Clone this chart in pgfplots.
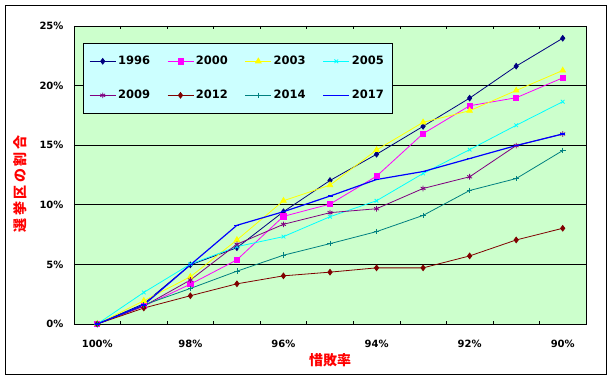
\documentclass[border=0pt]{standalone}
\usepackage{pgfplots}
\pgfplotsset{compat=1.18}
\usepackage{pgfplotstable}
\usepackage{fontspec}
\setmainfont{DejaVu Sans}
\newfontfamily\jp{Noto Sans CJK JP}
\definecolor{plotbg}{HTML}{CCFFCC}
\definecolor{legbg}{HTML}{CCFFFF}
\definecolor{c1996}{HTML}{000080}
\definecolor{c2000}{HTML}{FF00FF}
\definecolor{c2003}{HTML}{FFFF00}
\definecolor{c2005}{HTML}{00FFFF}
\definecolor{c2009}{HTML}{800080}
\definecolor{c2012}{HTML}{800000}
\definecolor{c2014}{HTML}{008080}
\definecolor{c2017}{HTML}{0000FF}
\pgfplotstableread{
x y1996 y2000 y2003 y2005 y2009 y2012 y2014 y2017
0 0 0 0 0 0 0 0 0
1 1.70 1.50 1.95 2.65 1.50 1.34 1.60 1.60
2 4.96 3.34 3.96 5.02 3.69 2.37 2.98 4.96
3 6.40 5.38 7.05 6.49 6.69 3.37 4.43 8.28
4 9.42 9.03 10.34 7.33 8.36 4.04 5.77 9.42
5 12.04 10.06 11.65 9.00 9.34 4.35 6.74 10.73
6 14.24 12.40 14.60 10.34 9.67 4.71 7.75 12.12
7 16.58 15.97 16.92 12.63 11.37 4.71 9.11 12.79
8 18.95 18.31 17.89 14.63 12.35 5.71 11.20 13.88
9 21.63 18.98 19.59 16.67 14.97 7.05 12.20 14.97
10 23.97 20.65 21.27 18.65 15.94 8.03 14.55 15.94
}\data
\begin{document}
\begin{tikzpicture}[x=1pt,y=1pt]
\path (0,0) rectangle (610,379);
\draw[black, line width=0.8pt] (5,5) rectangle (606,374);
\begin{axis}[
  at={(74pt,55pt)}, anchor=south west,
  width=512pt, height=298pt, scale only axis,
  xmin=-0.5, xmax=10.5, ymin=0, ymax=25,
  axis background/.style={fill=plotbg},
  axis line style={black, line width=0.6pt},
  xtick={0,2,...,10},
  xticklabels={100\%,98\%,96\%,94\%,92\%,90\%},
  minor xtick={-0.5,0.5,...,10.5},
  major x tick style={draw=none},
  minor x tick style={black, line width=0.5pt},
  minor tick length=3pt,
  tick align=inside,
  ytick={0,5,...,25},
  yticklabel={\pgfmathprintnumber{\tick}\%},
  major y tick style={draw=none},
  ymajorgrids,
  grid style={black, line width=0.8pt},
  /pgf/number format/assume math mode=true,
  ticklabel style={font=\bfseries\fontsize{10}{12}\selectfont, text=black},
  xticklabel style={yshift=-13pt},
  yticklabel style={xshift=-7pt},
  xlabel={\jp\bfseries 惜敗率},
  ylabel={\jp\bfseries\addfontfeature{LetterSpace=18}選挙区の割合},
  xlabel style={at={(axis description cs:0.5,-0.121)}, anchor=center, text=red, font=\fontsize{14}{16}\selectfont},
  ylabel style={at={(axis description cs:-0.105,0.47)}, anchor=center, text=red, font=\fontsize{14}{16}\selectfont},
  legend columns=4,
  legend cell align=left,
  legend image code/.code={\draw[mark repeat=2,mark phase=2] plot coordinates {(0pt,0pt) (13pt,0pt) (26pt,0pt)};},
  legend style={at={(axis description cs:0.0176,0.943)}, anchor=north west,
    fill=legbg, draw=black, line width=0.6pt,
    font=\bfseries\fontsize{11.5}{13}\selectfont,
    inner xsep=6pt, inner ysep=11pt, row sep=20pt,
    /tikz/every even column/.append style={column sep=15pt}},
  every axis plot/.append style={line width=0.8pt},
]
\addplot[color=c1996, mark=diamond*, mark size=2.8pt] table[x=x,y=y1996]{\data};
\addlegendentry{1996}
\addplot[color=c2000, mark=square*, mark size=2.6pt] table[x=x,y=y2000]{\data};
\addlegendentry{2000}
\addplot[color=c2003, mark=triangle*, mark size=3.2pt] table[x=x,y=y2003]{\data};
\addlegendentry{2003}
\addplot[color=c2005, mark=x, mark size=2.6pt] table[x=x,y=y2005]{\data};
\addlegendentry{2005}
\addplot[color=c2009, mark=asterisk, mark size=2.8pt] table[x=x,y=y2009]{\data};
\addlegendentry{2009}
\addplot[color=c2012, mark=diamond*, mark size=2.8pt] table[x=x,y=y2012]{\data};
\addlegendentry{2012}
\addplot[color=c2014, mark=+, mark size=2.8pt] table[x=x,y=y2014]{\data};
\addlegendentry{2014}
\addplot[color=c2017, mark=-, mark size=2.5pt, line width=1.2pt] table[x=x,y=y2017]{\data};
\addlegendentry{2017}
\end{axis}
\end{tikzpicture}
\end{document}
